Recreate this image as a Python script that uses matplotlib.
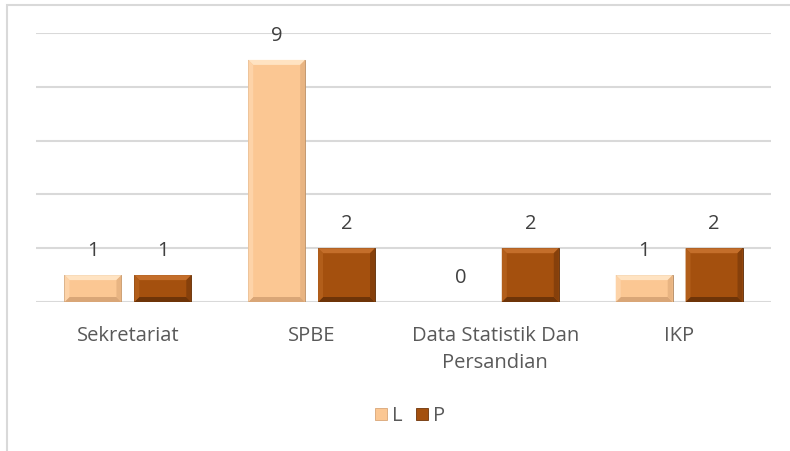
import numpy as np
import matplotlib
matplotlib.use('Agg')
import matplotlib.pyplot as plt
from matplotlib.patches import Polygon, Rectangle

# data
kategori = ['Sekretariat', 'SPBE', 'Data Statistik Dan\nPersandian', 'IKP']
nilai_L = [1, 9, 0, 1]
nilai_P = [1, 2, 2, 2]
seri = ['L', 'P']

warna = {'L': '#FBC793', 'P': '#A4500E'}
terang = {'L': '#FFE3C2', 'P': '#C46E2A'}
gelap = {'L': '#D9A677', 'P': '#6E3408'}
sisi_kiri = {'L': '#FDD3A8', 'P': '#B25E1A'}
sisi_kanan = {'L': '#E8B482', 'P': '#86400B'}

plt.rcParams['font.family'] = ['Open Sans', 'DejaVu Sans']

fig = plt.figure(figsize=(7.9, 4.51), dpi=100)
ax = fig.add_axes([36/790, 1-302/451, 735/790, 269/451])

x = np.arange(len(kategori))
lebar = 0.31
geser = 0.19

bar_L = ax.bar(x - geser, nilai_L, lebar, color=warna['L'], edgecolor='#B08860', linewidth=0.6, zorder=3)
bar_P = ax.bar(x + geser, nilai_P, lebar, color=warna['P'], edgecolor='#5A2A05', linewidth=0.6, zorder=3)

ax.set_xlim(-0.5, len(kategori) - 0.5)
ax.set_ylim(0, 10)
ax.set_yticks(np.arange(0, 11, 2))
ax.yaxis.grid(True, color='#D9D9D9', linewidth=1.5, zorder=0)
ax.set_axisbelow(True)
ax.tick_params(axis='y', left=False, labelleft=False)
ax.tick_params(axis='x', bottom=False, labelsize=14.5, labelcolor='#595959', pad=14)
ax.set_xticks(x)
ax.set_xticklabels(kategori, linespacing=1.42, va='top')
for s in ax.spines.values():
    s.set_visible(False)

# efek bevel (gaya Excel)
b = 5
inv = ax.transData.inverted()
def bevel(bars, key):
    for r in bars:
        if r.get_height() <= 0:
            continue
        (x0, y0), (x1, y1) = ax.transData.transform([(r.get_x(), 0), (r.get_x() + r.get_width(), r.get_height())])
        bb = min(b, (y1 - y0) / 2)
        potong = {
            'atas': [(x0, y1), (x1, y1), (x1 - b, y1 - bb), (x0 + b, y1 - bb)],
            'bawah': [(x0, y0), (x1, y0), (x1 - b, y0 + bb), (x0 + b, y0 + bb)],
            'kiri': [(x0, y0), (x0, y1), (x0 + b, y1 - bb), (x0 + b, y0 + bb)],
            'kanan': [(x1, y0), (x1, y1), (x1 - b, y1 - bb), (x1 - b, y0 + bb)],
        }
        wr = {'atas': terang[key], 'bawah': gelap[key], 'kiri': sisi_kiri[key], 'kanan': sisi_kanan[key]}
        for k, pts in potong.items():
            ax.add_patch(Polygon(inv.transform(pts), closed=True, facecolor=wr[k], edgecolor='none', zorder=4))

bevel(bar_L, 'L')
bevel(bar_P, 'P')

# label nilai
for bars, vals in [(bar_L, nilai_L), (bar_P, nilai_P)]:
    for r, v in zip(bars, vals):
        ax.annotate(str(v), (r.get_x() + r.get_width() / 2, v), xytext=(0, 10),
                    textcoords='offset points', ha='center', va='bottom',
                    fontsize=14.5, color='#404040', zorder=5)

# legenda
h = [Rectangle((0, 0), 1, 1, facecolor=warna[s], edgecolor=gelap[s], linewidth=0.6) for s in seri]
fig.legend(h, seri, loc='center', bbox_to_anchor=(410/790, 1-416/451), ncol=2, frameon=False,
           fontsize=14.5, labelcolor='#595959', handlelength=0.6, handleheight=0.6,
           handletextpad=0.25, columnspacing=0.7)

# bingkai luar
fig.add_artist(Rectangle((6.5/790, -0.1), 1.2, 1 - 4.5/451 + 0.1, transform=fig.transFigure,
                         fill=False, edgecolor='#D9D9D9', linewidth=1.5))

fig.savefig('out.png', dpi=100)
